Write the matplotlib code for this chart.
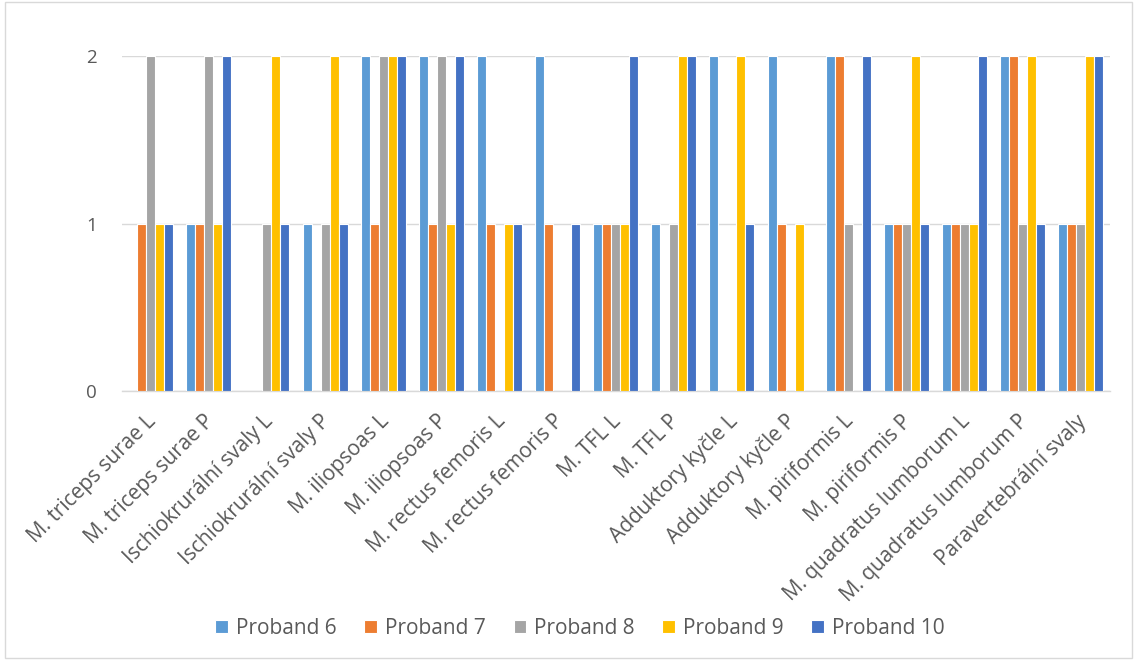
import matplotlib
matplotlib.use('Agg')
import matplotlib.pyplot as plt
import matplotlib.transforms as mtransforms
import numpy as np
from matplotlib.patches import Rectangle

svaly = ['M. triceps surae L', 'M. triceps surae P', 'Ischiokrurální svaly L',
         'Ischiokrurální svaly P', 'M. iliopsoas L', 'M. iliopsoas P',
         'M. rectus femoris L', 'M. rectus femoris P', 'M. TFL L', 'M. TFL P',
         'Adduktory kyčle L', 'Adduktory kyčle P', 'M. piriformis L',
         'M. piriformis P', 'M. quadratus lumborum L', 'M. quadratus lumborum P',
         'Paravertebrální svaly']

proband_6 = [0, 1, 0, 1, 2, 2, 2, 2, 1, 1, 2, 2, 2, 1, 1, 2, 1]
proband_7 = [1, 1, 0, 0, 1, 1, 1, 1, 1, 0, 0, 1, 2, 1, 1, 2, 1]
proband_8 = [2, 2, 1, 1, 2, 2, 0, 0, 1, 1, 0, 0, 1, 1, 1, 1, 1]
proband_9 = [1, 1, 2, 2, 2, 1, 1, 0, 1, 2, 2, 1, 0, 2, 1, 2, 2]
proband_10 = [1, 2, 1, 1, 2, 2, 1, 1, 2, 2, 1, 0, 2, 1, 2, 1, 2]

nazvy = ['Proband 6', 'Proband 7', 'Proband 8', 'Proband 9', 'Proband 10']
barvy = ['#5B9BD5', '#ED7D31', '#A5A5A5', '#FFC000', '#4472C4']
serie = [proband_6, proband_7, proband_8, proband_9, proband_10]

plt.rcParams['font.family'] = ['Open Sans', 'DejaVu Sans']
text_barva = '#595959'

fig = plt.figure(figsize=(11.37, 6.6), dpi=100)
ax = fig.add_axes([0.107, 0.4076, 0.869, 0.5074])

x = np.arange(len(svaly))
w = 0.155
for i, (hodnoty, nazev, barva) in enumerate(zip(serie, nazvy, barvy)):
    ax.bar(x + (i - 2) * w, hodnoty, w, color=barva, label=nazev,
           edgecolor='white', linewidth=0.8, zorder=3)

ax.set_xlim(-0.5, len(svaly) - 0.5)
ax.set_ylim(0, 2)
ax.set_yticks([0, 1, 2])
ax.yaxis.grid(True, color='#D9D9D9', linewidth=1, zorder=0)
ax.tick_params(axis='both', length=0, colors=text_barva, labelsize=13.5)
ax.tick_params(axis='y', pad=18)
ax.set_xticks(x)
ax.set_xticklabels(svaly, rotation=45, ha='right', rotation_mode='anchor',
                   fontsize=15, color=text_barva)
# popisky posunout dolu a kousek doleva
posun = mtransforms.ScaledTranslation(-5 / 100, -15 / 100, fig.dpi_scale_trans)
for lbl in ax.get_xticklabels():
    lbl.set_transform(lbl.get_transform() + posun)

for s in ['top', 'right', 'left']:
    ax.spines[s].set_visible(False)
ax.spines['bottom'].set_color('#D9D9D9')
ax.spines['bottom'].set_linewidth(1)

leg = fig.legend(loc='center', bbox_to_anchor=(0.51, 0.048), ncol=5,
                 frameon=False, fontsize=15, handlelength=0.62,
                 handleheight=0.62, columnspacing=1.35, handletextpad=0.35)
for t in leg.get_texts():
    t.set_color(text_barva)

# ramecek kolem grafu
fig.patches.append(Rectangle((0.004, 0.003), 0.992, 0.994, transform=fig.transFigure,
                             fill=False, edgecolor='#D9D9D9', linewidth=1))

fig.savefig('out.png', dpi=100)
